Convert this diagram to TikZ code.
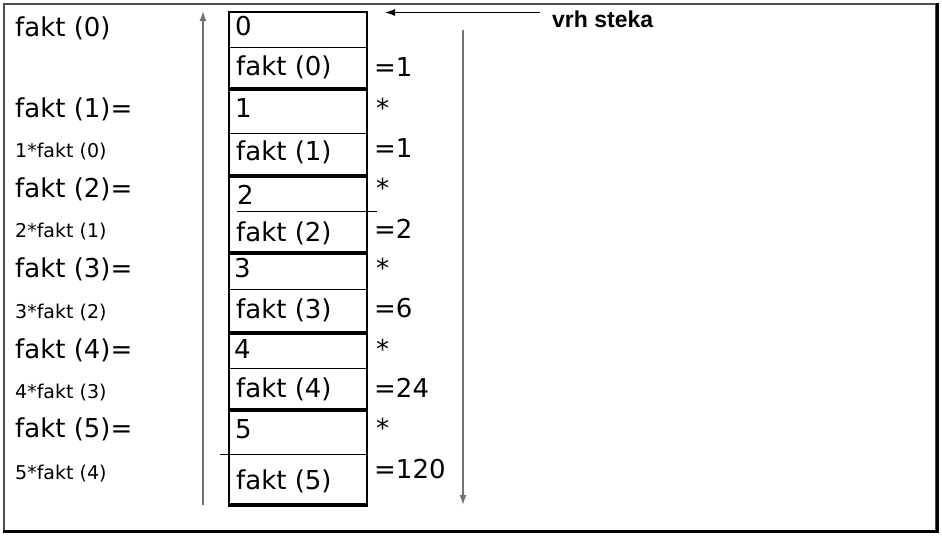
\documentclass[tikz,border=0pt]{standalone}
\usepackage{fontspec}
\setmainfont{DejaVu Sans}
\setsansfont{Liberation Sans}
\usetikzlibrary{arrows.meta}

\begin{document}
\begin{tikzpicture}[x=1pt,y=-1pt,
    big/.style={font=\fontsize{26}{30}\selectfont, inner sep=0pt, anchor=base west},
    small/.style={font=\fontsize{19}{22}\selectfont, inner sep=0pt, anchor=base west},
    thickline/.style={line width=3.6pt},
    flow/.style={draw=black!55, line width=1.4pt, -{Latex[length=10pt,width=7pt]}}]
  \useasboundingbox (0,0) rectangle (942,542);
  % frame
  \draw[black!70, line width=1.2pt] (4,4) rectangle (936,531);
  \draw[line width=2.4pt] (3,531.5) -- (937.5,531.5) -- (937.5,3);

  % stack
  \draw[line width=1.2pt] (229,12) rectangle (367,505);
  \draw (229,47)  -- (367,47);
  \draw (229,133) -- (367,133);
  \draw (237,211) -- (377,211);
  \draw (229,289) -- (367,289);
  \draw (229,368) -- (367,368);
  \draw (220,454) -- (367,454);
  \draw[thickline] (228,89)  -- (368,89);
  \draw[thickline] (228,176) -- (368,176);
  \draw[thickline] (228,253) -- (368,253);
  \draw[thickline] (228,333) -- (368,333);
  \draw[thickline] (228,410) -- (368,410);
  \draw[thickline] (228,505) -- (368,505);

  % stack contents
  \node (k0) [big] at (235,35)  {0};
  \node (f0) [big] at (236,75)  {fakt (0)};
  \node (k1) [big] at (235,117) {1};
  \node (f1) [big] at (236,160) {fakt (1)};
  \node (k2) [big] at (237,204) {2};
  \node (f2) [big] at (236,241) {fakt (2)};
  \node (k3) [big] at (234,277) {3};
  \node (f3) [big] at (236,318) {fakt (3)};
  \node (k4) [big] at (234,358) {4};
  \node (f4) [big] at (236,397) {fakt (4)};
  \node (k5) [big] at (235,438) {5};
  \node (f5) [big] at (236,489) {fakt (5)};

  % results
  \node (r0) [big] at (374,76)  {=1};
  \node (m1) [big] at (376,117) {*};
  \node (r1) [big] at (374,157) {=1};
  \node (m2) [big] at (376,197) {*};
  \node (r2) [big] at (374,238) {=2};
  \node (m3) [big] at (376,277) {*};
  \node (r3) [big] at (374,317) {=6};
  \node (m4) [big] at (376,358) {*};
  \node (r4) [big] at (374,397) {=24};
  \node (m5) [big] at (376,437) {*};
  \node (r5) [big] at (374,478) {=120};

  % calls
  \node (c0) [big]   at (15,36)  {fakt (0)};
  \node (c1) [big]   at (15,117) {fakt (1)=};
  \node (e1) [small] at (15,157) {1*fakt (0)};
  \node (c2) [big]   at (15,197) {fakt (2)=};
  \node (e2) [small] at (15,237) {2*fakt (1)};
  \node (c3) [big]   at (15,277) {fakt (3)=};
  \node (e3) [small] at (15,318) {3*fakt (2)};
  \node (c4) [big]   at (15,358) {fakt (4)=};
  \node (e4) [small] at (15,398) {4*fakt (3)};
  \node (c5) [big]   at (15,437) {fakt (5)=};
  \node (e5) [small] at (15,479) {5*fakt (4)};

  % top of stack
  \node (vrh) [font=\sffamily\bfseries\fontsize{23}{26}\selectfont, inner sep=0pt, anchor=base west]
    at (552,27) {vrh steka};
  \coordinate (vrhtip) at (385,12.5);
  \draw[-{Latex[length=10pt,width=7pt]}, line width=1.2pt] (vrh.west |- vrhtip) ++(-12,0) -- (vrhtip);

  % push and pop directions
  \coordinate (pushA) at (203,505);
  \coordinate (pushB) at (203,11);
  \coordinate (popA)  at (463,30);
  \coordinate (popB)  at (463,505);
  \draw[flow] (pushA) -- (pushB);
  \draw[flow] (popA) -- (popB);
\end{tikzpicture}
\end{document}
